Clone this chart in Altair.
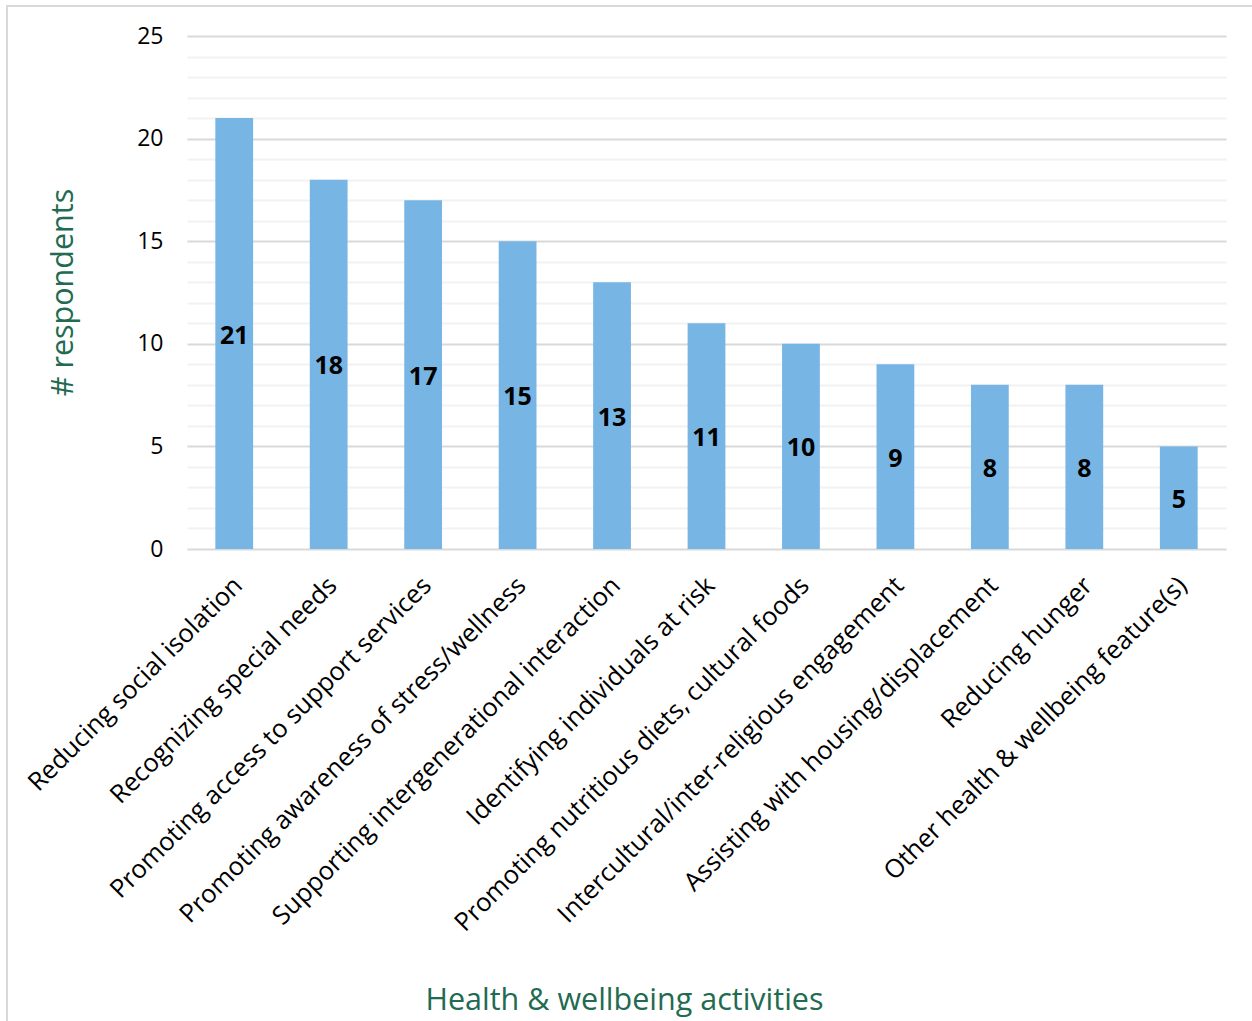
import altair as alt
import pandas as pd

categories = [
    "Reducing social isolation",
    "Recognizing special needs",
    "Promoting access to support services",
    "Promoting awareness of stress/wellness",
    "Supporting intergenerational interaction",
    "Identifying individuals at risk",
    "Promoting nutritious diets, cultural foods",
    "Intercultural/inter-religious engagement",
    "Assisting with housing/displacement",
    "Reducing hunger",
    "Other health & wellbeing feature(s)",
]
values = [21, 18, 17, 15, 13, 11, 10, 9, 8, 8, 5]
y_ticks = list(range(0, 26))

df = pd.DataFrame({"activity": categories, "respondents": values})

FONT = "Open Sans"
GREEN = "#226B50"
W, H = 1039, 513

x_axis = alt.Axis(
    title="Health & wellbeing activities",
    titleFont=FONT,
    titleFontSize=30.5,
    titleFontWeight="normal",
    titleColor=GREEN,
    titleX=437,
    titleY=451,
    titleAlign="center",
    titleBaseline="middle",
    labelAngle=-45,
    labelAlign="right",
    labelBaseline="middle",
    labelFont=FONT,
    labelFontSize=25.5,
    labelColor="#000000",
    labelLimit=0,
    labelPadding=32,
    labelOffset=4,
    labelOverlap=False,
    ticks=False,
    domain=False,
    grid=False,
)

y_axis = alt.Axis(
    title="# respondents",
    titleFont=FONT,
    titleFontSize=30.5,
    titleFontWeight="normal",
    titleColor=GREEN,
    titleAngle=-90,
    titleX=-124,
    titleY=256,
    titleAlign="center",
    titleBaseline="middle",
    values=y_ticks,
    labelExpr="datum.value % 5 === 0 ? datum.label : ''",
    labelFont=FONT,
    labelFontSize=23,
    labelColor="#000000",
    labelPadding=24,
    labelOverlap=False,
    ticks=False,
    domain=False,
    grid=True,
    gridColor={
        "condition": {"test": "datum.value % 5 === 0", "value": "#D9D9D9"},
        "value": "#F2F2F2",
    },
    gridWidth=2,
)

y_scale = alt.Scale(domain=[0, 25], nice=False, zero=True)
x_scale = alt.Scale(paddingInner=0.6, paddingOuter=0.3)

bars = alt.Chart(df).mark_bar(color="#77B5E4").encode(
    x=alt.X("activity:N", sort=None, scale=x_scale, axis=x_axis),
    y=alt.Y("respondents:Q", scale=y_scale, axis=y_axis),
)

labels = alt.Chart(df).transform_calculate(
    mid="datum.respondents / 2"
).mark_text(font=FONT, fontSize=25, fontWeight="bold", color="#000000", baseline="middle", dy=2).encode(
    x=alt.X("activity:N", sort=None, scale=x_scale, axis=x_axis),
    y=alt.Y("mid:Q", scale=y_scale, axis=y_axis),
    text=alt.Text("respondents:Q"),
)

frame = alt.Chart(df).mark_rect(fill=None, stroke="#D9D9D9", strokeWidth=2).encode(
    x=alt.value(-180), x2=alt.value(1080), y=alt.value(-30), y2=alt.value(1000)
)

chart = alt.layer(frame, bars, labels).properties(
    width=W,
    height=H,
    padding={"left": 187, "top": 36, "right": 26, "bottom": 472},
    autosize=alt.AutoSizeParams(type="none"),
    background="#FFFFFF",
).configure_view(stroke=None)

chart.save("out.html", embed_options={"renderer": "svg", "actions": False})
